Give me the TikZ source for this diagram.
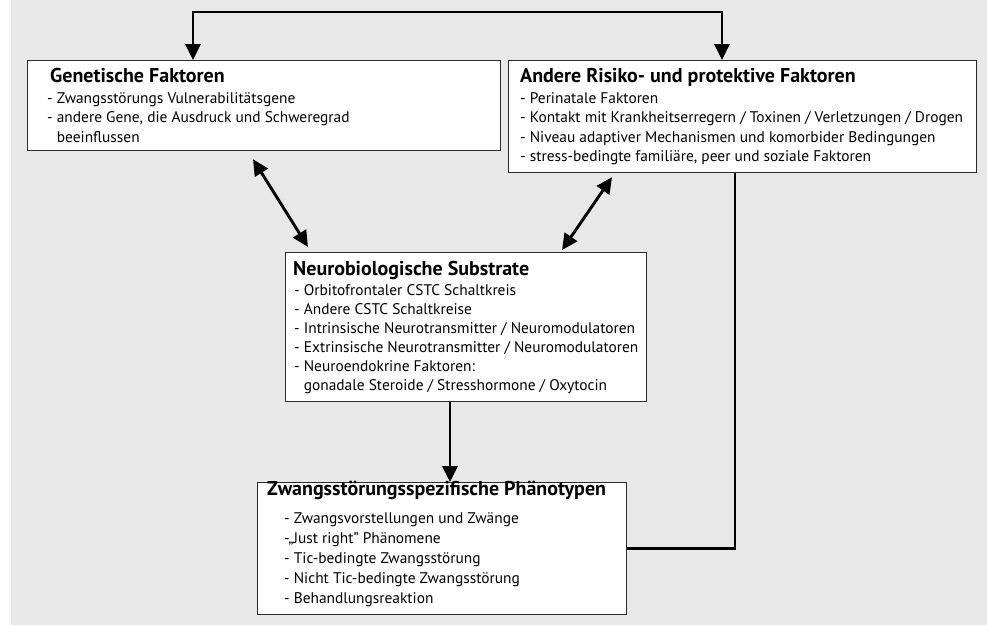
\documentclass[tikz,border=0pt]{standalone}
\usepackage{fontspec}
\setmainfont{PT Sans}
\usetikzlibrary{positioning,arrows.meta}
\definecolor{bggray}{HTML}{E7E8E7}
\definecolor{boxline}{HTML}{2B2B2B}
\newcommand{\boxlines}[1]{\begin{tabular}[t]{@{}l@{}}#1\end{tabular}}

\tikzset{
  box/.style={draw=boxline, line width=1.2pt, fill=white, anchor=north west, inner sep=0pt},
  boxtitle/.style={anchor=base west, inner sep=0pt, font=\fontsize{20}{24}\selectfont\bfseries},
  items/.style={anchor=base west, inner sep=0pt, font=\fontsize{15.4}{19.5}\selectfont},
  link/.style={line width=2.9pt, -{Triangle[length=16pt,width=15pt]}},
  dlink/.style={line width=2.9pt, {Triangle[length=16pt,width=15pt]}-{Triangle[length=16pt,width=15pt]}},
}

\begin{document}
\begin{tikzpicture}[x=1pt,y=1pt]
\useasboundingbox (0,0) rectangle (987,-625);
\fill[bggray] (11,0) rectangle (987,-625);
% boxes
\node[box, minimum width=473pt, minimum height=90pt] (gen) at (27,-60) {};
\node[box, minimum width=468pt, minimum height=112pt] (risk) at (508,-60) {};
\node[box, minimum width=361pt, minimum height=149pt] (neuro) at (285,-252) {};
\node[box, minimum width=369pt, minimum height=132pt] (pheno) at (257,-482) {};
% texts
\node[boxtitle] (gentitle) at (50,-82) {Genetische Faktoren};
\node[items] (genitems) at (47,-103) {\boxlines{- Zwangsstörungs Vulnerabilitätsgene\\
  - andere Gene, die Ausdruck und Schweregrad\\
  \phantom{- }beeinflussen}};
\node[boxtitle] (risktitle) at (520,-82) {Andere Risiko- und protektive Faktoren};
\node[items] (riskitems) at (520,-103) {\boxlines{- Perinatale Faktoren\\
  - Kontakt mit Krankheitserregern / Toxinen / Verletzungen / Drogen\\
  - Niveau adaptiver Mechanismen und komorbider Bedingungen\\
  - stress-bedingte familiäre, peer und soziale Faktoren}};
\node[boxtitle] (neurotitle) at (293,-275) {Neurobiologische Substrate};
\node[items, font=\fontsize{15.4}{19}\selectfont] (neuroitems) at (294,-295) {\boxlines{- Orbitofrontaler CSTC Schaltkreis\\
  - Andere CSTC Schaltkreise\\
  - Intrinsische Neurotransmitter / Neuromodulatoren\\
  - Extrinsische Neurotransmitter / Neuromodulatoren\\
  - Neuroendokrine Faktoren:\\
  \phantom{- }gonadale Steroide / Stresshormone / Oxytocin}};
\node[boxtitle] (phenotitle) at (267,-495) {Zwangsstörungsspezifische Phänotypen};
\node[items, font=\fontsize{15.4}{20}\selectfont] (phenoitems) at (284,-523) {\boxlines{- Zwangsvorstellungen und Zwänge\\
  -„Just right\symbol{34} Phänomene\\
  - Tic-bedingte Zwangsstörung\\
  - Nicht Tic-bedingte Zwangsstörung\\
  - Behandlungsreaktion}};
% connectors
\coordinate (top) at (450,-12);
\draw[dlink] ([xshift=166pt]gen.north west) |- (top) -| ([xshift=214pt]risk.north west);
\draw[dlink] ([shift={(226pt,-8pt)}]gen.south west) -- ([shift={(23pt,5pt)}]neuro.north west);
\draw[dlink] ([shift={(104pt,-4pt)}]risk.south west) -- ([shift={(277pt,2pt)}]neuro.north west);
\draw[link] ([xshift=165pt]neuro.south west) -- ([xshift=193pt]pheno.north west);
\draw[line width=2.9pt] ([xshift=227pt]risk.south west) |- (pheno.east);
\end{tikzpicture}
\end{document}
